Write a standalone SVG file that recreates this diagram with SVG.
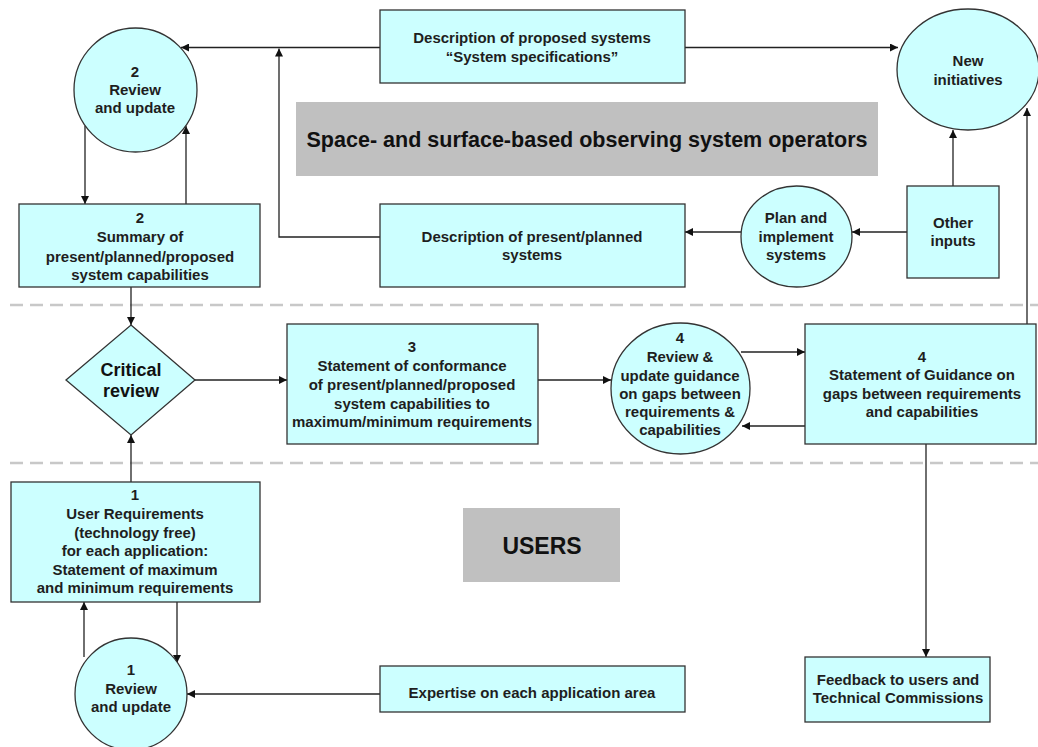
<svg xmlns="http://www.w3.org/2000/svg" width="1038" height="747" viewBox="0 0 1038 747">
<defs>
<marker id="ah" viewBox="0 0 10 10" refX="10" refY="5" markerWidth="8" markerHeight="8" markerUnits="userSpaceOnUse" orient="auto">
<path d="M0,0 L10,5 L0,10 z" fill="#111"/>
</marker>
<style>
.n{fill:#CCFFFF;stroke:#333;stroke-width:1.3}
.g{fill:#C0C0C0;stroke:none}
.t{font-family:"Liberation Sans",Arial,sans-serif;font-size:15px;font-weight:bold;fill:#1e1e1e;text-anchor:middle}
.big{font-family:"Liberation Sans",Arial,sans-serif;font-weight:bold;fill:#111;text-anchor:middle}
.c{fill:none;stroke:#222;stroke-width:1.3}
.a{fill:none;stroke:#222;stroke-width:1.3;marker-end:url(#ah)}
.d{fill:none;stroke:#C8C8C8;stroke-width:2.5;stroke-dasharray:13 7}
</style>
</defs>
<rect width="1038" height="747" fill="#fff"/>
<g id="separators">
<line class="d" x1="10" y1="305" x2="1038" y2="305"/>
<line class="d" x1="10" y1="463" x2="1038" y2="463"/>
</g>
<g id="title-operators">
<rect class="g" x="296" y="102" width="582" height="74"/>
<text class="big" x="587" y="147" font-size="22" textLength="561" lengthAdjust="spacingAndGlyphs">Space- and surface-based observing system operators</text>
</g>
<g id="title-users">
<rect class="g" x="463" y="508" width="157" height="74"/>
<text class="big" x="542" y="554" font-size="23">USERS</text>
</g>
<g id="connectors">
<line class="a" x1="380" y1="47.5" x2="181" y2="47.5"/>
<polyline class="a" points="380,237 279,237 279,48.5"/>
<line class="a" x1="85" y1="126" x2="85" y2="204"/>
<line class="a" x1="186" y1="204" x2="186" y2="126"/>
<line class="a" x1="131" y1="287" x2="131" y2="325"/>
<line class="a" x1="131" y1="482" x2="131" y2="435"/>
<line class="a" x1="195" y1="380" x2="287" y2="380"/>
<line class="a" x1="538" y1="380" x2="611" y2="380"/>
<line class="a" x1="741" y1="352" x2="805" y2="352"/>
<line class="a" x1="805" y1="426" x2="742" y2="426"/>
<line class="a" x1="1027" y1="324" x2="1027" y2="108"/>
<line class="a" x1="926" y1="444" x2="926" y2="657"/>
<line class="a" x1="685" y1="47.5" x2="898" y2="47.5"/>
<line class="a" x1="953" y1="186" x2="953" y2="130"/>
<line class="a" x1="907" y1="232" x2="852" y2="232"/>
<line class="a" x1="741" y1="232" x2="685" y2="232"/>
<line class="a" x1="177" y1="602" x2="177" y2="663"/>
<line class="a" x1="84" y1="657" x2="84" y2="602"/>
<line class="a" x1="380" y1="694" x2="187" y2="694"/>
</g>
<g id="review-update-2">
<ellipse class="n" cx="135.5" cy="90" rx="61.5" ry="62"/>
<text class="t" x="135" y="77">2</text>
<text class="t" x="135" y="95">Review</text>
<text class="t" x="135" y="113">and update</text>
</g>
<g id="summary-2">
<rect class="n" x="19" y="204" width="241" height="83"/>
<text class="t" x="140" y="223">2</text>
<text class="t" x="140" y="242">Summary of</text>
<text class="t" x="140" y="262">present/planned/proposed</text>
<text class="t" x="140" y="280">system  capabilities</text>
</g>
<g id="proposed-systems">
<rect class="n" x="380" y="10" width="305" height="73"/>
<text class="t" x="532" y="43">Description  of proposed systems</text>
<text class="t" x="532" y="62">“System specifications”</text>
</g>
<g id="present-systems">
<rect class="n" x="380" y="204" width="305" height="83"/>
<text class="t" x="532" y="242">Description  of present/planned</text>
<text class="t" x="532" y="260">systems</text>
</g>
<g id="new-initiatives">
<ellipse class="n" cx="968" cy="69.5" rx="71" ry="60.5"/>
<text class="t" x="968" y="66">New</text>
<text class="t" x="968" y="85">initiatives</text>
</g>
<g id="plan-implement">
<ellipse class="n" cx="796.5" cy="236.5" rx="55.5" ry="50.5"/>
<text class="t" x="796" y="223">Plan and</text>
<text class="t" x="796" y="242">implement</text>
<text class="t" x="796" y="260">systems</text>
</g>
<g id="other-inputs">
<rect class="n" x="907" y="186" width="92" height="92"/>
<text class="t" x="953" y="228">Other</text>
<text class="t" x="953" y="246">inputs</text>
</g>
<g id="critical-review">
<polygon class="n" points="131,325 195,380 131,435 66,380"/>
<text class="big" x="131" y="376" font-size="18">Critical</text>
<text class="big" x="131" y="397" font-size="18">review</text>
</g>
<g id="conformance-3">
<rect class="n" x="287" y="324" width="251" height="120"/>
<text class="t" x="412" y="352">3</text>
<text class="t" x="412" y="371">Statement of conformance</text>
<text class="t" x="412" y="390">of present/planned/proposed</text>
<text class="t" x="412" y="409">system  capabilities to</text>
<text class="t" x="412" y="427">maximum/minimum requirements</text>
</g>
<g id="review-guidance-4">
<ellipse class="n" cx="680.5" cy="388.5" rx="69.5" ry="65.5"/>
<text class="t" x="680" y="343">4</text>
<text class="t" x="680" y="362">Review &amp;</text>
<text class="t" x="680" y="381">update guidance</text>
<text class="t" x="680" y="399">on gaps  between</text>
<text class="t" x="680" y="417">requirements &amp;</text>
<text class="t" x="680" y="435">capabilities</text>
</g>
<g id="guidance-4">
<rect class="n" x="805" y="324" width="231" height="120"/>
<text class="t" x="922" y="362">4</text>
<text class="t" x="922" y="380">Statement of Guidance on</text>
<text class="t" x="922" y="399">gaps  between requirements</text>
<text class="t" x="922" y="417">and capabilities</text>
</g>
<g id="user-requirements-1">
<rect class="n" x="11" y="482" width="249" height="120"/>
<text class="t" x="135" y="500">1</text>
<text class="t" x="135" y="519">User Requirements</text>
<text class="t" x="135" y="538">(technology  free)</text>
<text class="t" x="135" y="556">for each application:</text>
<text class="t" x="135" y="575">Statement of maximum</text>
<text class="t" x="135" y="593">and minimum requirements</text>
</g>
<g id="review-update-1">
<circle class="n" cx="131" cy="694" r="56"/>
<text class="t" x="131" y="675">1</text>
<text class="t" x="131" y="694">Review</text>
<text class="t" x="131" y="712">and update</text>
</g>
<g id="expertise">
<rect class="n" x="380" y="666" width="305" height="46"/>
<text class="t" x="532" y="698">Expertise on each application area</text>
</g>
<g id="feedback">
<rect class="n" x="805" y="657" width="185" height="65"/>
<text class="t" x="898" y="685">Feedback to users  and</text>
<text class="t" x="898" y="703">Technical Commissions</text>
</g>
</svg>
